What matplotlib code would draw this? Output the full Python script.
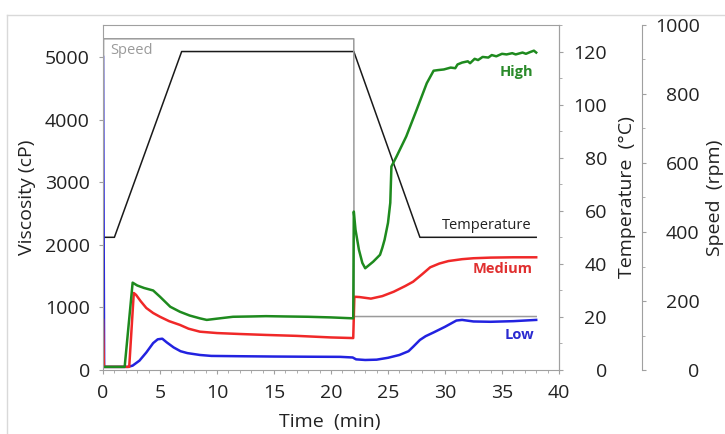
import matplotlib
matplotlib.use('Agg')
import matplotlib.pyplot as plt
from matplotlib.ticker import MultipleLocator
from matplotlib.lines import Line2D

plt.rcParams['font.family'] = ['Open Sans', 'DejaVu Sans']

# viscosity (cP) vs time (min)
t_low = [0, 0.1, 2.2, 2.6, 3.2, 3.8, 4.4, 4.8, 5.2, 5.6, 6.2, 6.8, 7.4, 8.5, 9.5, 12, 15, 18, 20.8,
         21.9, 22.2, 23, 24, 25, 26, 26.8, 27.2, 27.8, 28.3, 29, 30, 31, 31.5, 32.5, 34, 36, 37, 38]
low = [5000, 50, 50, 70, 150, 280, 430, 490, 500, 440, 360, 300, 270, 240, 225, 220, 215, 212, 210,
       200, 170, 160, 165, 195, 240, 300, 370, 480, 540, 600, 690, 790, 800, 775, 770, 780, 790, 800]

t_med = [0, 0.08, 2.3, 2.7, 2.9, 3.3, 3.8, 4.4, 5.0, 5.8, 6.75, 7.5, 8.5, 10, 12, 14.3, 17, 20, 21.95,
         22.05, 22.5, 23.5, 24.5, 25.5, 26.5, 27.2, 28, 28.7, 29.5, 30.3, 31.5, 32.5, 34, 36, 38]
medium = [800, 50, 50, 1230, 1200, 1100, 990, 910, 850, 780, 720, 660, 612, 590, 575, 560, 545, 520, 510,
          1170, 1165, 1140, 1180, 1250, 1340, 1410, 1530, 1640, 1700, 1740, 1770, 1785, 1795, 1800, 1800]

t_high = [0, 1.9, 2.6, 3.0, 3.6, 4.4, 5.0, 5.9, 6.75, 7.6, 8.5, 9.1, 10, 11.4, 13, 14.3, 16, 18, 20,
          21.95, 22.0, 22.15, 22.45, 22.75, 23.0, 23.7, 24.3, 24.5, 24.7, 25.0, 25.2, 25.3, 25.75,
          26.6, 27.5, 28.4, 29.0, 29.4, 29.9, 30.5, 30.9, 31.1, 31.5, 32.0, 32.2, 32.6, 32.9,
          33.3, 33.8, 34.1, 34.5, 35.0, 35.4, 35.9, 36.2, 36.8, 37.1, 37.5, 37.8, 38.0]
high = [50, 50, 1395, 1350, 1310, 1270, 1170, 1010, 930, 870, 825, 800, 820, 850, 855, 860, 855, 850, 840,
        825, 2530, 2240, 1920, 1710, 1625, 1730, 1840, 1950, 2080, 2350, 2670, 3250, 3410,
        3730, 4150, 4580, 4780, 4790, 4800, 4830, 4820, 4880, 4910, 4930, 4900, 4970, 4950,
        5000, 4990, 5030, 5010, 5050, 5040, 5060, 5040, 5070, 5050, 5080, 5100, 5070]

# temperature (C) and speed (rpm) profiles
t_temp = [0, 1.0, 6.9, 22.0, 27.8, 38]
temp = [50, 50, 120, 120, 50, 50]

t_speed = [0, 0.05, 22.0, 22.02, 38]
speed = [0, 960, 960, 155, 155]

grey = '#a0a0a0'
tick_txt = '#222222'

fig = plt.figure(figsize=(7.25, 4.34), dpi=100)
ax = fig.add_axes([103/725, 64/434, 456/725, 345/434])
ax_t = ax.twinx()
ax_s = ax.twinx()
ax.set_zorder(3)
ax.patch.set_visible(False)

# outer frame of the screenshot
fig.add_artist(Line2D([7/725, 7/725], [0, 419/434], color='#d9d9d9', lw=1))
fig.add_artist(Line2D([7/725, 1], [419/434, 419/434], color='#d9d9d9', lw=1))

ax_s.plot(t_speed, speed, color='#9a9a9a', lw=1.1)
ax_t.plot(t_temp, temp, color='#1a1a1a', lw=1.1)
ax.plot(t_low, low, color='#2222e0', lw=1.8)
ax.plot(t_med, medium, color='#f02828', lw=1.8)
ax.plot(t_high, high, color='#1e8a1e', lw=1.8)

ax.set_xlim(0, 40)
ax.set_ylim(0, 5510)
ax_t.set_ylim(0, 130)
ax_s.set_ylim(0, 1000)

ax.set_xticks(range(0, 41, 5))
ax.xaxis.set_minor_locator(MultipleLocator(1))
ax.set_yticks(range(0, 5001, 1000))
ax_t.set_yticks(range(0, 121, 20))
ax_t.yaxis.set_minor_locator(MultipleLocator(10))
ax_s.set_yticks(range(0, 1001, 200))
ax_s.yaxis.set_minor_locator(MultipleLocator(100))

for sp in ax.spines.values():
    sp.set_color(grey)
for name in ['left', 'top', 'bottom']:
    ax_t.spines[name].set_visible(False)
    ax_s.spines[name].set_visible(False)
ax_t.spines['right'].set_color(grey)
ax_s.spines['right'].set_color(grey)
ax_s.spines['right'].set_position(('axes', (642 - 103) / 456))

ax.tick_params(which='major', length=3, color=grey, labelsize=14, labelcolor=tick_txt)
ax.tick_params(which='minor', length=2, color=grey)
ax.tick_params(axis='y', pad=6.5)
ax.tick_params(axis='x', pad=7)
ax_t.tick_params(which='major', length=3, color=grey, labelsize=14, labelcolor=tick_txt, pad=31.5)
ax_t.tick_params(which='minor', length=2, color=grey)
ax_s.tick_params(which='major', length=3, color=grey, labelsize=14, labelcolor=tick_txt, pad=38.5)
ax_s.tick_params(which='minor', length=2, color=grey)
for lbl in ax_t.get_yticklabels() + ax_s.get_yticklabels():
    lbl.set_ha('right')

ax.set_xlabel('Time  (min)', fontsize=14, color=tick_txt)
ax.xaxis.set_label_coords(0.498, -0.151)
ax.xaxis.label.set_va('center')
ax.set_ylabel('Viscosity (cP)', fontsize=14, color=tick_txt)
ax.yaxis.set_label_coords(-0.1667, 0.5)
ax.yaxis.label.set_va('center')
ax_t.set_ylabel('Temperature  (°C)', fontsize=14, color=tick_txt)
ax_t.yaxis.set_label_coords(1.149, 0.5)
ax_t.yaxis.label.set_va('center')
ax_s.set_ylabel('Speed  (rpm)', fontsize=14, color=tick_txt)
ax_s.yaxis.set_label_coords(1.342, 0.5)
ax_s.yaxis.label.set_va('center')

# curve labels
ax.text(37.7, 4760, 'High', color='#2a8a2a', fontsize=10.5, fontweight='bold', ha='right', va='center')
ax.text(37.7, 1613, 'Medium', color='#e03030', fontsize=10.5, fontweight='bold', ha='right', va='center')
ax.text(37.8, 560, 'Low', color='#2a2ad0', fontsize=10.5, fontweight='bold', ha='right', va='center')
ax.text(37.6, 2300, 'Temperature', color='#222222', fontsize=10.5, ha='right', va='center')
ax.text(0.6, 5100, 'Speed', color='#9a9a9a', fontsize=10.5, ha='left', va='center')

fig.savefig('out.png', dpi=100)
